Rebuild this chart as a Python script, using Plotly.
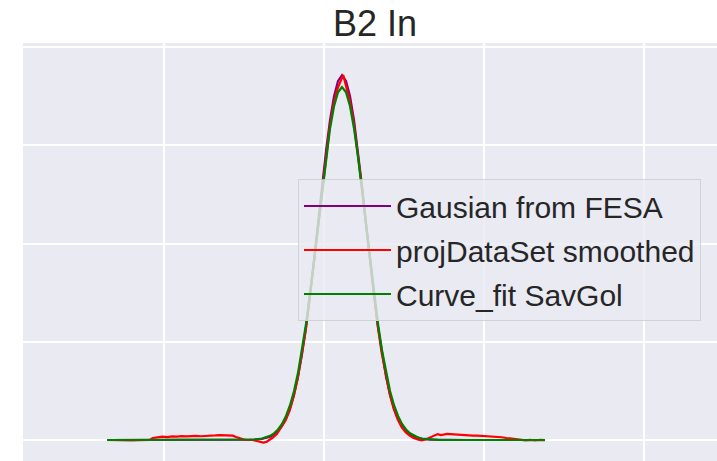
import plotly.graph_objects as go

title_text = "B2 In"
series_names = ["Gausian from FESA", "projDataSet smoothed", "Curve_fit SavGol"]
series_colors = ["#800080", "#FF0000", "#008000"]

x_fit = [64.4, 100, 130, 145, 151.25, 156.25, 161.25, 163.75, 166.25, 168.75, 171.25,
         173.75, 176.25, 178.75, 181.25, 183.75, 186.25, 188.75, 191.25, 193.75, 196.25,
         198.75, 201.25, 203.75, 206.25, 208.75, 211.25, 213.75, 216.25, 218.75, 221.25,
         223.75, 226.25, 228.75, 231.25, 233.75, 236.25, 238.75, 241.25, 243.75, 246.25,
         248.75, 251.25, 253.75, 256.25, 258.75, 261.25, 266.25, 271.25, 290, 320, 338.1]

y_fesa = [0, 0, 0, 0.0002, 0.001, 0.003,
          0.011, 0.020, 0.034, 0.057, 0.092, 0.143, 0.218, 0.322, 0.463, 0.645,
          0.874, 1.150, 1.470, 1.826, 2.204, 2.584, 2.944, 3.258, 3.502, 3.657,
          3.715,
          3.657, 3.502, 3.258, 2.944, 2.584, 2.204, 1.826, 1.470, 1.150, 0.874,
          0.645, 0.463, 0.322, 0.218, 0.143, 0.092, 0.057, 0.034, 0.020, 0.011,
          0.003, 0.001, 0, 0, 0]

y_savgol = [0, 0, 0, 0.0005, 0.0013, 0.005,
            0.015, 0.025, 0.042, 0.068, 0.107, 0.164, 0.245, 0.354, 0.499, 0.684,
            0.912, 1.183, 1.493, 1.834, 2.192, 2.549, 2.883, 3.173, 3.399, 3.541,
            3.595,
            3.541, 3.399, 3.173, 2.883, 2.549, 2.192, 1.834, 1.493, 1.183, 0.912,
            0.684, 0.499, 0.354, 0.245, 0.164, 0.107, 0.068, 0.042, 0.025, 0.015,
            0.005, 0.0013, 0, 0, 0]

x_proj = [64.4, 68, 72, 76, 80, 84, 88, 91, 93, 96, 99, 102, 105, 108, 111, 114, 117,
          120, 123, 126, 129, 132, 135, 138, 141, 143, 145, 147.5, 150, 152, 155, 158,
          160, 162, 164, 166, 168, 170.5, 173.5, 176, 178.5, 181, 183.5, 186, 188.5,
          191, 193.5, 196, 198.5, 201, 203.5, 206, 208.5, 210.5, 212, 213.5, 216,
          218.5, 221, 223.5, 226, 228.5, 231, 233.5, 236, 238.5, 241, 243.5, 246,
          248.5, 251, 253.5, 256, 258.5, 261, 263.5, 265.5, 267.5, 269.5, 271, 273,
          275, 277, 279, 281.5, 284, 287, 290, 293, 296, 299, 302, 305, 308, 311,
          314, 317, 320, 323, 326, 329, 332, 335, 338.1]

y_proj = [0.0, -0.002, 0.001, -0.003, -0.004, -0.002, -0.003, 0.0, 0.02, 0.03, 0.035,
          0.03, 0.036, 0.034, 0.04, 0.037, 0.04, 0.042, 0.038, 0.043, 0.042, 0.046,
          0.05, 0.049, 0.05, 0.044, 0.03, 0.015, 0.005, 0.0, 0.002, -0.01, -0.02,
          -0.026, -0.02, 0.0, 0.025, 0.06, 0.13, 0.20, 0.30, 0.44, 0.62, 0.86, 1.11,
          1.43, 1.78, 2.16, 2.53, 2.88, 3.18, 3.42, 3.58, 3.66, 3.717, 3.62, 3.46,
          3.24, 2.94, 2.60, 2.23, 1.86, 1.49, 1.17, 0.89, 0.66, 0.47, 0.32, 0.21,
          0.13, 0.08, 0.045, 0.02, 0.005, -0.004, 0.005, 0.02, 0.04, 0.055, 0.06,
          0.05, 0.058, 0.062, 0.06, 0.056, 0.054, 0.05, 0.049, 0.045, 0.044, 0.041,
          0.04, 0.036, 0.032, 0.028, 0.02, 0.014, 0.006, 0.0, -0.004, 0.002, -0.005,
          0.001, -0.002]

x_ticks = [100, 200, 300, 400]
y_ticks = [0, 1, 2, 3, 4]

fig = go.Figure()
series = [(x_fit, y_fesa), (x_proj, y_proj), (x_fit, y_savgol)]
for i, ((xs, ys), name, color) in enumerate(zip(series, series_names, series_colors)):
    fig.add_trace(go.Scatter(x=xs, y=ys, mode="lines", name=name,
                             line=dict(color=color, width=2.2),
                             legendgroup="g%d" % i))

font_family = "Liberation Sans, Arial, sans-serif"
fig.update_layout(
    width=717, height=461,
    margin=dict(l=23, r=0, t=43, b=0),
    paper_bgcolor="white",
    plot_bgcolor="#EAEAF2",
    font=dict(family=font_family, color="#262626"),
    title=dict(text=title_text, x=375 / 717, xanchor="center",
               y=1 - 23 / 461, yanchor="middle", yref="container",
               font=dict(size=36, color="#262626", family=font_family)),
    xaxis=dict(range=[11.875, 445.6], tickvals=x_ticks, showticklabels=False,
               showgrid=True, gridcolor="white", gridwidth=1.5, zeroline=False,
               showline=False, ticks=""),
    yaxis=dict(range=[-0.214, 4.043], tickvals=y_ticks, showticklabels=False,
               showgrid=True, gridcolor="white", gridwidth=1.5, zeroline=False,
               showline=False, ticks=""),
    legend=dict(x=(298 - 23) / 694, y=(461 - 179) / 418, xanchor="left", yanchor="top",
                bgcolor="rgba(234,234,242,0.8)", bordercolor="rgba(204,204,204,0.8)",
                borderwidth=1, font=dict(size=30, color="#262626", family=font_family),
                tracegroupgap=2, itemwidth=87),
)

fig.write_html("out.html")
